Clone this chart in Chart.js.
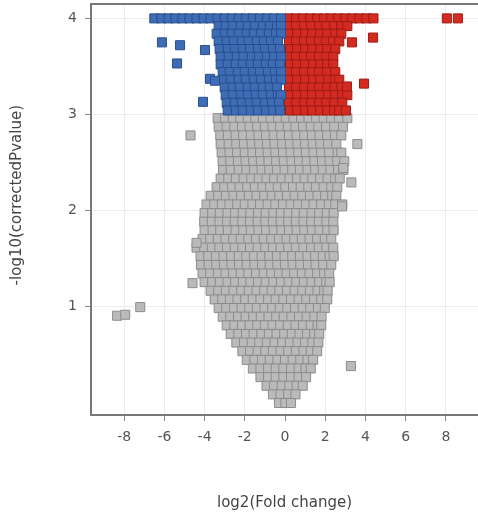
<!DOCTYPE html>
<html>
<head>
<meta charset="utf-8">
<script src="https://cdn.jsdelivr.net/npm/chart.js@4/dist/chart.umd.min.js"></script>
<style>
  body { margin: 0; background: #fff; overflow: hidden; }
  canvas { display: block; }
</style>
</head>
<body>
<canvas id="volcano" width="478" height="518"></canvas>
<script>
const xTicks = [-8, -6, -4, -2, 0, 2, 4, 6, 8];
const yTicks = [1, 2, 3, 4];

// down-regulated (blue), each row: [y, [x values]]
const blueRows = [
    [4.0, [-6.5, -6.15, -5.8, -5.45, -5.1, -4.75, -4.4, -4.05, -3.7, -3.35, -3.0, -2.65, -2.3, -1.95, -1.6, -1.25, -0.9, -0.55, -0.2]],
    [3.92, [-3.3, -2.95, -2.6, -2.2, -1.85, -1.5, -1.1, -0.75, -0.4, -0.2]],
    [3.84, [-3.4, -3.0, -2.65, -2.3, -1.9, -1.55, -1.2, -0.8, -0.45, -0.2]],
    [3.76, [-3.3, -2.9, -2.55, -2.15, -1.8, -1.4, -1.05, -0.7, -0.35]],
    [3.68, [-3.25, -2.85, -2.5, -2.1, -1.75, -1.35, -1.0, -0.6, -0.25]],
    [3.6, [-3.2, -2.8, -2.4, -2.05, -1.65, -1.3, -0.9, -0.55, -0.2]],
    [3.52, [-3.2, -2.85, -2.45, -2.1, -1.7, -1.35, -0.95, -0.6, -0.25]],
    [3.44, [-3.1, -2.75, -2.35, -2.0, -1.6, -1.25, -0.85, -0.5, -0.2]],
    [3.36, [-3.05, -2.7, -2.3, -1.95, -1.55, -1.2, -0.8, -0.45, -0.2]],
    [3.28, [-3.0, -2.6, -2.25, -1.85, -1.5, -1.1, -0.75, -0.4]],
    [3.2, [-2.95, -2.6, -2.2, -1.85, -1.45, -1.1, -0.7, -0.35, -0.2]],
    [3.12, [-2.9, -2.5, -2.15, -1.75, -1.4, -1.0, -0.65, -0.3]],
    [3.04, [-2.85, -2.45, -2.1, -1.7, -1.35, -0.95, -0.6, -0.25]]
];
const blueOutX = [-6.12, -5.22, -5.37, -4.08, -3.73, -3.48, -3.98];
const blueOutY = [3.75, 3.72, 3.53, 3.13, 3.37, 3.35, 3.67];

// up-regulated (red)
const redRows = [
    [4.0, [0.2, 0.55, 0.9, 1.25, 1.6, 1.95, 2.3, 2.65, 3.0, 3.35, 3.7, 4.05, 4.4, 8.05, 8.6]],
    [3.92, [0.2, 0.55, 0.95, 1.3, 1.7, 2.05, 2.45, 2.8, 3.1]],
    [3.84, [0.25, 0.6, 1.0, 1.35, 1.75, 2.1, 2.5, 2.8]],
    [3.76, [0.2, 0.55, 0.95, 1.3, 1.7, 2.05, 2.4, 2.7]],
    [3.68, [0.25, 0.6, 1.0, 1.35, 1.75, 2.1, 2.5]],
    [3.6, [0.2, 0.55, 0.95, 1.3, 1.7, 2.05, 2.4]],
    [3.52, [0.25, 0.6, 1.0, 1.4, 1.75, 2.1, 2.4]],
    [3.44, [0.2, 0.55, 0.95, 1.35, 1.7, 2.1, 2.5]],
    [3.36, [0.25, 0.6, 1.0, 1.4, 1.75, 2.15, 2.5, 2.7]],
    [3.28, [0.2, 0.55, 0.95, 1.35, 1.7, 2.1, 2.45, 2.8]],
    [3.2, [0.25, 0.6, 1.0, 1.35, 1.75, 2.15, 2.5, 2.85, 3.1]],
    [3.12, [0.2, 0.55, 0.95, 1.3, 1.7, 2.05, 2.45, 2.85]],
    [3.04, [0.25, 0.6, 1.0, 1.35, 1.75, 2.1, 2.45, 2.7]]
];
const redOutX = [4.38, 3.93, 3.33, 3.08, 3.03];
const redOutY = [3.8, 3.32, 3.75, 3.29, 3.04];

// not significant (gray)
const grayRows = [
    [2.96, [-3.35, -2.98, -2.6, -2.22, -1.85, -1.47, -1.1, -0.72, -0.34, 0.04, 0.42, 0.8, 1.17, 1.55, 1.92, 2.3, 2.68, 3.1]],
    [2.87, [-3.3, -2.9, -2.52, -2.14, -1.76, -1.38, -1.0, -0.62, -0.24, 0.14, 0.52, 0.9, 1.28, 1.66, 2.04, 2.45, 2.88]],
    [2.78, [-3.22, -2.84, -2.46, -2.08, -1.7, -1.32, -0.94, -0.56, -0.18, 0.2, 0.58, 0.96, 1.34, 1.72, 2.1, 2.48, 2.8]],
    [2.69, [-3.2, -2.8, -2.42, -2.04, -1.66, -1.28, -0.9, -0.52, -0.14, 0.24, 0.62, 1.0, 1.38, 1.76, 2.14, 2.55]],
    [2.6, [-3.15, -2.76, -2.38, -2.0, -1.62, -1.24, -0.86, -0.48, -0.1, 0.28, 0.66, 1.04, 1.42, 1.8, 2.2, 2.62, 2.8]],
    [2.51, [-3.1, -2.72, -2.34, -1.96, -1.58, -1.2, -0.82, -0.44, -0.06, 0.32, 0.7, 1.08, 1.46, 1.84, 2.22, 2.6, 2.95]],
    [2.42, [-3.08, -2.7, -2.3, -1.92, -1.54, -1.16, -0.78, -0.4, -0.02, 0.36, 0.74, 1.12, 1.5, 1.88, 2.26, 2.64, 2.9]],
    [2.33, [-3.2, -2.82, -2.44, -2.06, -1.68, -1.3, -0.92, -0.54, -0.16, 0.22, 0.6, 0.98, 1.36, 1.74, 2.12, 2.5, 2.72]],
    [2.24, [-3.4, -3.02, -2.64, -2.26, -1.88, -1.5, -1.12, -0.74, -0.36, 0.02, 0.4, 0.78, 1.16, 1.54, 1.92, 2.3, 2.6]],
    [2.15, [-3.7, -3.32, -2.94, -2.56, -2.18, -1.8, -1.42, -1.04, -0.66, -0.28, 0.1, 0.48, 0.86, 1.24, 1.62, 2.0, 2.35, 2.55]],
    [2.06, [-3.9, -3.52, -3.14, -2.76, -2.38, -2.0, -1.62, -1.24, -0.86, -0.48, -0.1, 0.28, 0.66, 1.04, 1.42, 1.8, 2.18, 2.5, 2.85]],
    [1.97, [-4.0, -3.62, -3.24, -2.86, -2.48, -2.1, -1.72, -1.34, -0.96, -0.58, -0.2, 0.18, 0.56, 0.94, 1.32, 1.7, 2.08, 2.42]],
    [1.88, [-4.02, -3.64, -3.26, -2.88, -2.5, -2.12, -1.74, -1.36, -0.98, -0.6, -0.22, 0.16, 0.54, 0.92, 1.3, 1.68, 2.06, 2.4]],
    [1.79, [-4.0, -3.6, -3.22, -2.84, -2.46, -2.08, -1.7, -1.32, -0.94, -0.56, -0.18, 0.2, 0.58, 0.96, 1.34, 1.72, 2.1, 2.42]],
    [1.7, [-4.1, -3.72, -3.34, -2.96, -2.58, -2.2, -1.82, -1.44, -1.06, -0.68, -0.3, 0.08, 0.46, 0.84, 1.22, 1.6, 1.98, 2.3]],
    [1.61, [-4.4, -4.02, -3.64, -3.26, -2.88, -2.5, -2.12, -1.74, -1.36, -0.98, -0.6, -0.22, 0.16, 0.54, 0.92, 1.3, 1.68, 2.06, 2.4]],
    [1.52, [-4.2, -3.82, -3.44, -3.06, -2.68, -2.3, -1.92, -1.54, -1.16, -0.78, -0.4, -0.02, 0.36, 0.74, 1.12, 1.5, 1.88, 2.22, 2.42]],
    [1.43, [-4.18, -3.8, -3.42, -3.04, -2.66, -2.28, -1.9, -1.52, -1.14, -0.76, -0.38, 0.0, 0.38, 0.76, 1.14, 1.52, 1.9, 2.3]],
    [1.34, [-4.1, -3.72, -3.34, -2.96, -2.58, -2.2, -1.82, -1.44, -1.06, -0.68, -0.3, 0.08, 0.46, 0.84, 1.22, 1.6, 1.95, 2.2]],
    [1.25, [-4.0, -3.62, -3.24, -2.86, -2.48, -2.1, -1.72, -1.34, -0.96, -0.58, -0.2, 0.18, 0.56, 0.94, 1.32, 1.7, 2.05, 2.22]],
    [1.16, [-3.7, -3.32, -2.94, -2.56, -2.18, -1.8, -1.42, -1.04, -0.66, -0.28, 0.1, 0.48, 0.86, 1.24, 1.62, 1.95, 2.12]],
    [1.07, [-3.5, -3.12, -2.74, -2.36, -1.98, -1.6, -1.22, -0.84, -0.46, -0.08, 0.3, 0.68, 1.06, 1.44, 1.8, 2.1]],
    [0.98, [-3.3, -2.92, -2.54, -2.16, -1.78, -1.4, -1.02, -0.64, -0.26, 0.12, 0.5, 0.88, 1.26, 1.64, 1.98]],
    [0.89, [-3.1, -2.72, -2.34, -1.96, -1.58, -1.2, -0.82, -0.44, -0.06, 0.32, 0.7, 1.08, 1.46, 1.82]],
    [0.8, [-2.9, -2.52, -2.14, -1.76, -1.38, -1.0, -0.62, -0.24, 0.14, 0.52, 0.9, 1.28, 1.62, 1.8]],
    [0.71, [-2.7, -2.32, -1.94, -1.56, -1.18, -0.8, -0.42, -0.04, 0.34, 0.72, 1.1, 1.45, 1.7]],
    [0.62, [-2.42, -2.04, -1.66, -1.28, -0.9, -0.52, -0.14, 0.24, 0.62, 1.0, 1.36, 1.66]],
    [0.53, [-2.12, -1.74, -1.36, -0.98, -0.6, -0.22, 0.16, 0.54, 0.92, 1.28, 1.6]],
    [0.44, [-1.9, -1.52, -1.14, -0.76, -0.38, 0.0, 0.38, 0.76, 1.12, 1.4]],
    [0.35, [-1.6, -1.22, -0.84, -0.46, -0.08, 0.3, 0.68, 1.02, 1.28]],
    [0.26, [-1.22, -0.84, -0.46, -0.08, 0.3, 0.68, 1.05]],
    [0.17, [-0.92, -0.54, -0.16, 0.22, 0.58, 0.88]],
    [0.08, [-0.6, -0.22, 0.16, 0.52]],
    [-0.01, [-0.3, 0.02, 0.3]]
];
const grayOutX = [-8.35, -7.95, -7.2, -4.7, -4.4, -4.6, 3.6, 3.3, 2.9, 2.84, 3.28];
const grayOutY = [0.9, 0.91, 0.99, 2.78, 1.66, 1.24, 2.69, 2.29, 2.44, 2.04, 0.375];

function toPoints(rows, outX, outY) {
    const pts = [];
    rows.forEach(([y, xs]) => xs.forEach(x => pts.push({x: x, y: y})));
    outX.forEach((x, i) => pts.push({x: x, y: outY[i]}));
    return pts;
}

const topBorder = {
    id: 'topBorder',
    afterDraw(chart) {
        const {ctx, chartArea} = chart;
        ctx.save();
        ctx.strokeStyle = '#777';
        ctx.lineWidth = 2;
        ctx.beginPath();
        ctx.moveTo(chartArea.left, chartArea.top);
        ctx.lineTo(chartArea.right, chartArea.top);
        ctx.stroke();
        ctx.restore();
    }
};

const tickFont = {family: 'DejaVu Sans', size: 14};
const titleFont = {family: 'DejaVu Sans', size: 15};

const ctx = document.getElementById('volcano').getContext('2d');
new Chart(ctx, {
    type: 'scatter',
    data: {
        datasets: [
            {
                label: 'down',
                data: toPoints(blueRows, blueOutX, blueOutY),
                backgroundColor: '#3e6db5',
                borderColor: '#2a4e8e',
            },
            {
                label: 'up',
                data: toPoints(redRows, redOutX, redOutY),
                backgroundColor: '#d42b20',
                borderColor: '#9e1c14',
            },
            {
                label: 'ns',
                data: toPoints(grayRows, grayOutX, grayOutY),
                backgroundColor: '#bababa',
                borderColor: '#8c8c8c',
            }
        ]
    },
    options: {
        responsive: false,
        devicePixelRatio: 1,
        animation: false,
        layout: {autoPadding: false, padding: {top: 4, right: 0, left: 0, bottom: 0}},
        elements: {
            point: {pointStyle: 'rect', radius: 6.4, borderWidth: 1, hoverRadius: 6.4}
        },
        plugins: {
            legend: {display: false},
            tooltip: {enabled: false}
        },
        scales: {
            x: {
                type: 'linear',
                min: -9.65,
                max: 9.6,
                afterFit: (s) => { s.height = 103; s.paddingLeft = 0; s.paddingRight = 0; },
                afterBuildTicks: (s) => { s.ticks = xTicks.map(v => ({value: v})); },
                border: {color: '#777', width: 2},
                grid: {color: '#ececec', tickLength: 6, tickColor: '#888'},
                ticks: {font: tickFont, color: '#555', padding: 8},
                title: {
                    display: true,
                    text: 'log2(Fold change)',
                    font: titleFont,
                    color: '#444',
                    padding: {top: 0, bottom: 6}
                }
            },
            y: {
                type: 'linear',
                min: -0.135,
                max: 4.15,
                afterFit: (s) => { s.width = 91; s.paddingTop = 0; s.paddingBottom = 0; },
                afterBuildTicks: (s) => { s.ticks = yTicks.map(v => ({value: v})); },
                border: {color: '#777', width: 2},
                grid: {color: '#ececec', tickLength: 6, tickColor: '#888'},
                ticks: {font: tickFont, color: '#555', padding: 8},
                title: {
                    display: true,
                    text: '      -log10(correctedPvalue)',
                    font: titleFont,
                    color: '#444',
                    padding: {top: 8, bottom: 0}
                }
            }
        }
    },
    plugins: [topBorder]
});
</script>
</body>
</html>
